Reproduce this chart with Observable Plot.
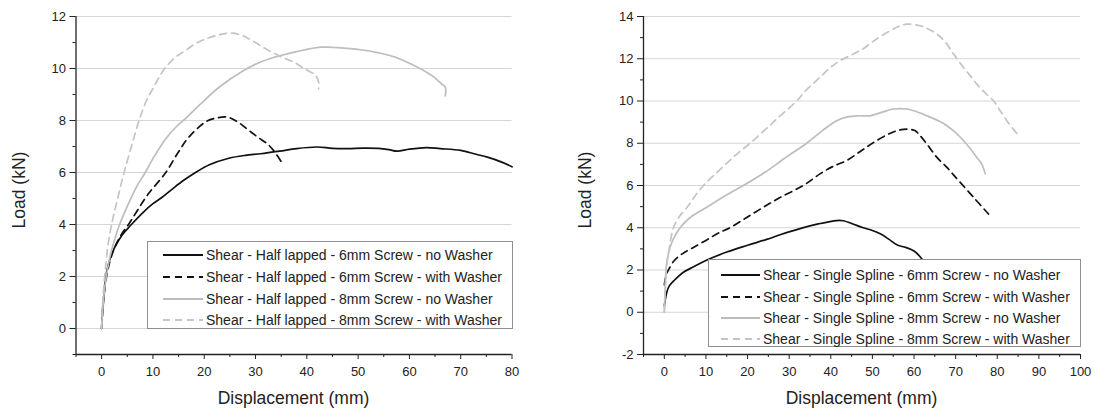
<!DOCTYPE html>
<html><head><meta charset="utf-8">
<script src="https://cdn.jsdelivr.net/npm/d3@7"></script>
<script src="https://cdn.jsdelivr.net/npm/@observablehq/plot@0.6"></script>
<style>
body{margin:0;background:#fff;font-family:"Liberation Sans",Arial,sans-serif;}
#wrap{position:relative;width:1094px;height:409px;display:flex;}
.legend{position:absolute;background:#fff;border:1px solid #8f8f8f;box-sizing:border-box;color:#222;}
.row{position:absolute;left:0;display:flex;align-items:center;white-space:nowrap;}
.lab{position:absolute;font-size:17.5px;color:#222;white-space:nowrap;transform:translate(-50%,-50%);}
.lab.rot{transform:translate(-50%,-50%) rotate(-90deg);}
</style></head>
<body><div id="wrap"></div>
<script>
// ---------- data ----------
const leftNames = [
  "Shear - Half lapped - 6mm Screw - no Washer",
  "Shear - Half lapped - 6mm Screw - with Washer",
  "Shear - Half lapped - 8mm Screw - no Washer",
  "Shear - Half lapped - 8mm Screw - with Washer"];
const rightNames = [
  "Shear - Single Spline - 6mm Screw - no Washer",
  "Shear - Single Spline - 6mm Screw - with Washer",
  "Shear - Single Spline - 8mm Screw - no Washer",
  "Shear - Single Spline - 8mm Screw - with Washer"];
const xLabel = "Displacement (mm)";
const yLabel = "Load (kN)";

const half6No = [[0,0],[0.2,0.8],[0.5,1.4],[0.8,2.0],[1.5,2.6],[2.5,3.1],[4,3.6],[5.8,4.0],[8,4.45],[10,4.8],[11.8,5.05],[14,5.4],[16,5.7],[18.3,6.0],[21,6.3],[24.8,6.55],[28,6.66],[31,6.72],[34.7,6.82],[38,6.92],[42,6.98],[45,6.93],[48,6.92],[51,6.94],[54,6.93],[56,6.88],[57.6,6.82],[60,6.9],[63.3,6.96],[66,6.92],[70,6.85],[73,6.7],[75.2,6.59],[78,6.4],[80,6.22]];
const half6With = [[0,0],[0.3,0.9],[0.8,1.8],[1.5,2.5],[2.5,3.1],[3.8,3.6],[5.4,4.05],[7,4.55],[9,5.15],[12.5,6.0],[15,6.8],[17,7.36],[20.3,7.95],[22.5,8.1],[24.5,8.13],[26.5,7.95],[28.5,7.65],[30.5,7.35],[32.3,7.1],[33.5,6.85],[35,6.42]];
const half8No = [[0,0],[0.3,1],[0.8,1.85],[1.5,2.65],[2.5,3.4],[3.5,4.0],[5,4.7],[6.8,5.45],[8.5,6.0],[10.2,6.6],[12.5,7.3],[14.5,7.75],[16.5,8.1],[19.3,8.64],[22.9,9.28],[27.7,9.92],[31,10.25],[34.9,10.5],[38,10.65],[42.7,10.82],[46,10.8],[50.5,10.72],[54,10.6],[57,10.45],[60.2,10.18],[62.5,9.95],[64.8,9.67],[66.3,9.4],[67,9.28],[67,8.95]];
const half8With = [[0,0],[0.1,0.6],[0.3,1.3],[0.7,2.23],[1.3,3.3],[2.1,4.15],[3,4.9],[4.3,5.95],[5.8,7.0],[7.3,8.0],[8.7,8.75],[10.2,9.3],[11.3,9.7],[12.5,10.05],[14.5,10.45],[16.4,10.7],[18.5,10.98],[20.3,11.14],[22.5,11.28],[24.8,11.36],[27,11.3],[29.5,11.05],[32.3,10.72],[35,10.45],[37.5,10.24],[39.5,10.0],[41.7,9.73],[42.3,9.47],[42.3,9.22]];

const spline6No = [[0,0.3],[0.2,0.55],[0.6,0.95],[1.2,1.25],[2.6,1.55],[4.5,1.88],[7,2.15],[10,2.45],[15,2.85],[20,3.17],[24.6,3.45],[28,3.68],[32.6,3.96],[37,4.18],[41.4,4.34],[43,4.33],[45,4.2],[47.8,4.0],[50,3.87],[52,3.7],[54,3.45],[56,3.18],[58,3.07],[60,2.9],[62,2.5],[63,2.2]];
const spline6With = [[0,1.3],[0.5,1.8],[1,2.0],[2,2.35],[3.5,2.65],[5,2.85],[7,3.07],[10,3.4],[13,3.75],[15.8,4.0],[19.5,4.45],[23.8,4.97],[28,5.45],[33.4,6.0],[37.4,6.55],[40.5,6.9],[43.8,7.18],[47,7.6],[50,8.0],[53.5,8.4],[56,8.6],[58.3,8.67],[60.2,8.6],[61.5,8.35],[63.1,7.96],[65.5,7.33],[67.9,6.86],[69.5,6.5],[71.1,6.15],[74.3,5.44],[77.9,4.65]];
const spline8No = [[0,0],[0.2,1],[0.4,2],[1,2.8],[2,3.4],[3.8,4.0],[6,4.45],[10.2,4.97],[14.5,5.5],[19,6.0],[24,6.6],[29,7.3],[34.2,8.0],[38,8.6],[41.4,9.07],[44,9.25],[46.5,9.3],[49.4,9.3],[52,9.45],[55,9.62],[58.3,9.62],[60.5,9.5],[63.1,9.3],[66,9.05],[67.9,8.83],[70,8.5],[71.9,8.12],[73.5,7.75],[75.1,7.33],[76.3,7.0],[77.1,6.55]];
const spline8With = [[0,0],[0.2,1],[0.5,2],[1,2.8],[2.2,4.0],[3.5,4.5],[5.4,4.95],[7,5.4],[9.4,6.0],[12,6.5],[15,7.05],[17.5,7.5],[20.6,8.0],[24,8.6],[27,9.15],[31.8,10.0],[34,10.5],[37.4,11.12],[40,11.6],[42.2,11.9],[45.4,12.22],[48,12.5],[50,12.8],[53.5,13.24],[56,13.5],[58.3,13.64],[61.5,13.56],[63.5,13.4],[65.5,13.17],[67.5,12.8],[69.5,12.22],[71.9,11.59],[73.5,11.2],[75.1,10.8],[77,10.4],[79.1,10.01],[80.5,9.6],[82.3,9.07],[85.1,8.36]];

const leftXTicks = [0,10,20,30,40,50,60,70,80];
const leftXMinor = [-5,5,15,25,35,45,55,65,75];
const leftYTicks = [0,2,4,6,8,10,12];
const leftYMinor = [-1,1,3,5,7,9,11];
const rightXTicks = [0,10,20,30,40,50,60,70,80,90,100];
const rightXMinor = [-5,5,15,25,35,45,55,65,75,85,95];
const rightYTicks = [-2,0,2,4,6,8,10,12,14];
const rightYMinor = [-1,1,3,5,7,9,11,13];

// ---------- styles ----------
const seriesStyle = [
  {stroke:"#111", dash:null},
  {stroke:"#111", dash:"7,5"},
  {stroke:"#bdbdbd", dash:null},
  {stroke:"#c4c4c4", dash:"7,5"}];
const font = '"Liberation Sans", Arial, sans-serif';
const fmt = d => String(d);

function makeChart(o) {
  const lines = o.series.map((d, i) => Plot.line(d, {
    x: p => p[0], y: p => p[1], stroke: seriesStyle[i].stroke,
    strokeDasharray: seriesStyle[i].dash, strokeWidth: 1.7, curve: "catmull-rom"
  }));
  return Plot.plot({
    width: 547, height: 409,
    marginLeft: o.ml, marginRight: o.mr, marginTop: 16, marginBottom: 55,
    x: {domain: o.xd}, y: {domain: o.yd},
    style: {fontFamily: font, fontSize: "13px", color: "#222", background: "#fff", overflow: "visible"},
    marks: [
      Plot.gridY(o.yt.filter(t => t > o.yd[0]), {stroke: "#d6d6d6", strokeOpacity: 1, strokeWidth: 1}),
      ...lines,
      Plot.ruleX([o.xd[0]], {stroke: "#222", strokeWidth: 1.3}),
      Plot.ruleY([o.yd[0]], {stroke: "#222", strokeWidth: 1.3}),
      Plot.axisY(o.yt, {tickSize: 6, tickPadding: 4, label: null, stroke: "#222", tickFormat: fmt}),
      Plot.axisY(o.ym, {tickSize: 3, text: null, label: null, stroke: "#222"}),
      Plot.axisX(o.xt, {tickSize: 5, tickPadding: 7, label: null, stroke: "#222", tickFormat: fmt}),
      Plot.axisX(o.xm, {tickSize: 3, text: null, label: null, stroke: "#222"})
    ]
  });
}

const wrap = document.getElementById("wrap");
wrap.append(makeChart({series:[half6No,half6With,half8No,half8With], xd:[-5,80], yd:[-1,12],
  xt:leftXTicks, xm:leftXMinor, yt:leftYTicks, ym:leftYMinor, ml:75.5, mr:35.5}));
wrap.append(makeChart({series:[spline6No,spline6With,spline8No,spline8With], xd:[-5,100], yd:[-2,14],
  xt:rightXTicks, xm:rightXMinor, yt:rightYTicks, ym:rightYMinor, ml:96, mr:14}));

function label(text, x, y, rot) {
  const d = document.createElement("div");
  d.className = "lab" + (rot ? " rot" : "");
  d.style.left = x + "px"; d.style.top = y + "px";
  d.textContent = text;
  wrap.append(d);
}
label(yLabel, 19, 190, true);
label(yLabel, 585, 190, true);
label(xLabel, 293.5, 398, false);
label(xLabel, 861.5, 398, false);

function legend(names, box) {
  const div = document.createElement("div");
  div.className = "legend";
  Object.assign(div.style, {left: box.x+"px", top: box.y+"px", width: box.w+"px", height: box.h+"px"});
  names.forEach((n, i) => {
    const row = document.createElement("div");
    row.className = "row";
    row.style.top = (box.rows[i] - box.y - 11) + "px";
    row.style.height = "22px";
    row.style.left = (box.sx - box.x - 1) + "px";
    const s = seriesStyle[i];
    row.innerHTML = `<svg width="${box.sw}" height="22"><line x1="0" x2="${box.sw}" y1="11" y2="11" stroke="${s.stroke}" stroke-width="1.8" ${s.dash ? `stroke-dasharray="${s.dash}"` : ""}/></svg><span style="margin-left:3px;font-size:${box.fs}px;">${n}</span>`;
    div.append(row);
  });
  wrap.append(div);
}
legend(leftNames, {x:147, y:241, w:366, h:88, rows:[254,276,298,319], sx:163, sw:40, fs:14});
legend(rightNames, {x:708, y:259, w:373, h:88, rows:[274,295.7,316.7,338], sx:721, sw:39, fs:14});
</script></body></html>
